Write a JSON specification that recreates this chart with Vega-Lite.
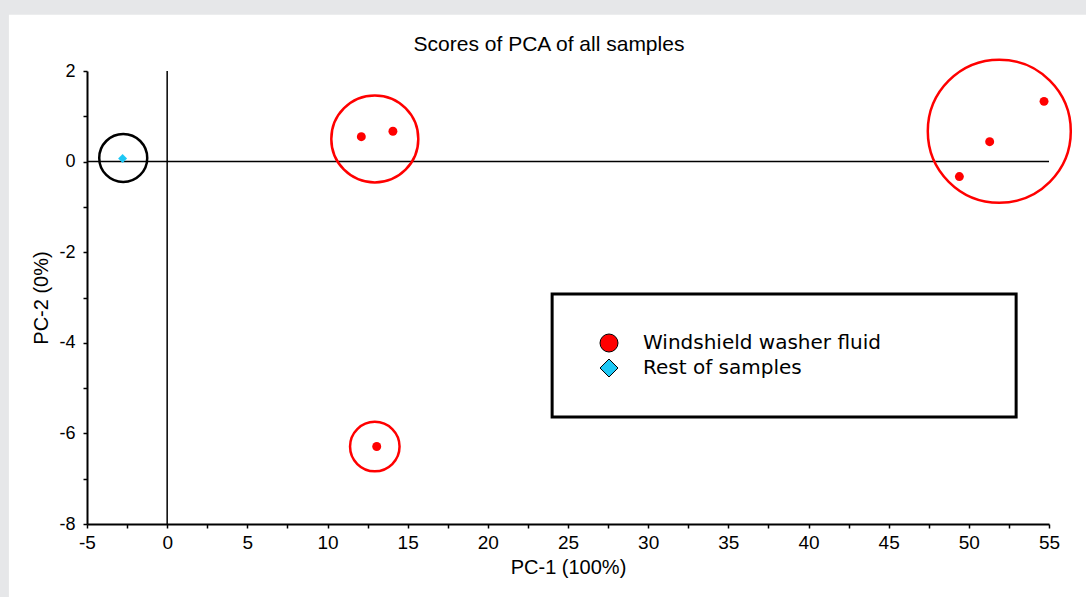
{
  "$schema": "https://vega.github.io/schema/vega-lite/v6.json",
  "width": 962,
  "height": 453,
  "autosize": "none",
  "padding": {"left": 87, "top": 71, "right": 37, "bottom": 73},
  "background": "#e6e7e9",
  "title": {
    "text": "Scores of PCA of all samples",
    "font": "Liberation Sans, Arial",
    "fontSize": 21,
    "fontWeight": "normal",
    "color": "#000000",
    "dx": -19,
    "offset": -40
  },
  "config": {
    "view": {"stroke": null},
    "axis": {
      "grid": false,
      "domainColor": "#000000",
      "domainWidth": 2,
      "tickColor": "#000000",
      "tickWidth": 1.5,
      "tickSize": 4,
      "labelColor": "#000000",
      "titleColor": "#000000",
      "titleFontWeight": "normal"
    }
  },
  "datasets": {
    "one": [{}],
    "scores": [
      {"pc1": -2.78, "pc2": 0.07, "group": "Rest of samples"},
      {"pc1": 12.11, "pc2": 0.55, "group": "Windshield washer fluid"},
      {"pc1": 14.08, "pc2": 0.67, "group": "Windshield washer fluid"},
      {"pc1": 13.07, "pc2": -6.29, "group": "Windshield washer fluid"},
      {"pc1": 49.41, "pc2": -0.33, "group": "Windshield washer fluid"},
      {"pc1": 51.3, "pc2": 0.44, "group": "Windshield washer fluid"},
      {"pc1": 54.69, "pc2": 1.33, "group": "Windshield washer fluid"}
    ],
    "rings": [
      {"cx": -2.74, "cy": 0.08, "ring": "rest"},
      {"cx": 12.95, "cy": 0.5, "ring": "mid"},
      {"cx": 51.9, "cy": 0.67, "ring": "right"},
      {"cx": 12.95, "cy": -6.29, "ring": "low"}
    ],
    "box": [
      {"x1": 24.01, "x2": 52.95, "y1": -2.92, "y2": -5.64}
    ]
  },
  "layer": [
    {
      "data": {"name": "one"},
      "mark": {"type": "rect", "fill": "#ffffff", "clip": false},
      "encoding": {
        "x": {"datum": -9.87, "type": "quantitative", "title": "PC-1 (100%)"},
        "x2": {"datum": 80},
        "y": {"datum": 3.24, "type": "quantitative", "title": "PC-2 (0%)"},
        "y2": {"datum": -20}
      }
    },
    {
      "data": {"name": "box"},
      "mark": {"type": "rect", "fill": "#ffffff", "stroke": "#000000", "strokeWidth": 3},
      "encoding": {
        "x": {"field": "x1", "type": "quantitative", "title": "PC-1 (100%)"},
        "x2": {"field": "x2"},
        "y": {"field": "y1", "type": "quantitative", "title": "PC-2 (0%)"},
        "y2": {"field": "y2"}
      }
    },
    {
      "data": {"name": "one"},
      "mark": {"type": "rule", "color": "#000000", "strokeWidth": 1.5},
      "encoding": {
        "x": {"datum": 0, "type": "quantitative", "title": "PC-1 (100%)"},
        "y": {"datum": 2, "type": "quantitative", "title": "PC-2 (0%)"},
        "y2": {"datum": -8}
      }
    },
    {
      "data": {"name": "one"},
      "mark": {"type": "rule", "color": "#000000", "strokeWidth": 1.5},
      "encoding": {
        "y": {"datum": 0, "type": "quantitative", "title": "PC-2 (0%)"},
        "x": {"datum": -5, "type": "quantitative", "title": "PC-1 (100%)"},
        "x2": {"datum": 55}
      }
    },
    {
      "data": {"name": "rings"},
      "transform": [{"filter": "datum.ring === 'rest'"}],
      "mark": {"type": "point", "filled": false, "strokeWidth": 2.5, "opacity": 1, "shape": "circle", "size": 2304, "stroke": "#000000"},
      "encoding": {
        "x": {"field": "cx", "type": "quantitative", "title": "PC-1 (100%)"},
        "y": {"field": "cy", "type": "quantitative", "title": "PC-2 (0%)"}
      }
    },
    {
      "data": {"name": "rings"},
      "transform": [{"filter": "datum.ring === 'mid'"}],
      "mark": {"type": "point", "filled": false, "strokeWidth": 2.5, "opacity": 1, "shape": "circle", "size": 7569, "stroke": "#ff0000"},
      "encoding": {
        "x": {"field": "cx", "type": "quantitative", "title": "PC-1 (100%)"},
        "y": {"field": "cy", "type": "quantitative", "title": "PC-2 (0%)"}
      }
    },
    {
      "data": {"name": "rings"},
      "transform": [{"filter": "datum.ring === 'right'"}],
      "mark": {"type": "point", "filled": false, "strokeWidth": 2.5, "opacity": 1, "shape": "circle", "size": 20449, "stroke": "#ff0000"},
      "encoding": {
        "x": {"field": "cx", "type": "quantitative", "title": "PC-1 (100%)"},
        "y": {"field": "cy", "type": "quantitative", "title": "PC-2 (0%)"}
      }
    },
    {
      "data": {"name": "rings"},
      "transform": [{"filter": "datum.ring === 'low'"}],
      "mark": {"type": "point", "filled": false, "strokeWidth": 2.5, "opacity": 1, "shape": "circle", "size": 2450, "stroke": "#ff0000"},
      "encoding": {
        "x": {"field": "cx", "type": "quantitative", "title": "PC-1 (100%)"},
        "y": {"field": "cy", "type": "quantitative", "title": "PC-2 (0%)"}
      }
    },
    {
      "data": {"name": "scores"},
      "mark": {"type": "point", "filled": true, "size": 80, "opacity": 1},
      "encoding": {
        "x": {
          "field": "pc1", "type": "quantitative",
          "title": "PC-1 (100%)",
          "scale": {"domain": [-5, 55], "nice": false, "zero": false},
          "axis": {
            "zindex": 2,
            "values": [-5, -2.5, 0, 2.5, 5, 7.5, 10, 12.5, 15, 17.5, 20, 22.5, 25, 27.5, 30, 32.5, 35, 37.5, 40, 42.5, 45, 47.5, 50, 52.5, 55],
            "labelExpr": "datum.value % 5 === 0 ? '' + datum.value : ''",
            "labelFont": "Liberation Sans, Arial",
            "labelFontSize": 19,
            "labelPadding": 5,
            "labelFlush": false,
            "labelOverlap": false,
            "titleFont": "Liberation Sans, Arial",
            "titleFontSize": 20,
            "titlePadding": 5
          }
        },
        "y": {
          "field": "pc2", "type": "quantitative",
          "title": "PC-2 (0%)",
          "scale": {"domain": [-8, 2], "nice": false, "zero": false},
          "axis": {
            "zindex": 2,
            "values": [-8, -7, -6, -5, -4, -3, -2, -1, 0, 1, 2],
            "labelExpr": "datum.value % 2 === 0 ? '' + datum.value : ''",
            "labelFont": "Liberation Sans, Arial",
            "labelFontSize": 18,
            "labelPadding": 8,
            "labelFlush": false,
            "labelOverlap": false,
            "titleFont": "Liberation Sans, Arial",
            "titleFontSize": 20,
            "titlePadding": 7
          }
        },
        "color": {
          "field": "group", "type": "nominal",
          "scale": {"domain": ["Windshield washer fluid", "Rest of samples"], "range": ["#ff0000", "#1ec8f5"]},
          "legend": {
            "title": null,
            "orient": "none",
            "legendX": 512,
            "legendY": 262,
            "padding": 0,
            "symbolSize": 324,
            "symbolStrokeColor": "#000000",
            "symbolStrokeWidth": 1,
            "labelFont": "DejaVu Sans",
            "labelFontSize": 20,
            "labelLimit": 500,
            "labelColor": "#000000",
            "labelOffset": 24,
            "rowPadding": 3,
            "zindex": 2,
            "encode": {
              "symbols": {"update": {"stroke": {"value": "#000000"}, "strokeWidth": {"value": 1}, "opacity": {"value": 1}}}
            }
          }
        },
        "shape": {
          "field": "group", "type": "nominal",
          "scale": {"domain": ["Windshield washer fluid", "Rest of samples"], "range": ["circle", "diamond"]}
        }
      }
    }
  ]
}
